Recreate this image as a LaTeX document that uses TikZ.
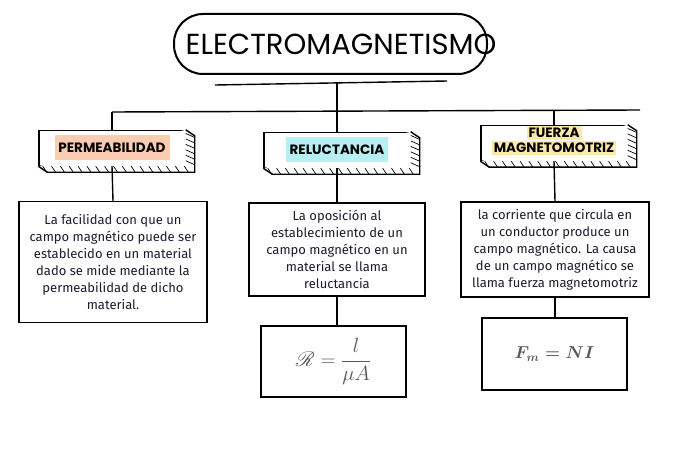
\documentclass[tikz,border=0pt]{standalone}
\usepackage{fontspec}
\setmainfont{Fira Sans}
\newfontfamily\headfont{Poppins}
\usepackage{amsmath}
\usepackage{mathrsfs}
\usetikzlibrary{positioning,shapes.geometric,calc}

\definecolor{peach}{RGB}{250,204,178}
\definecolor{aqua}{RGB}{183,240,242}
\definecolor{butter}{RGB}{252,232,168}
\definecolor{ink}{RGB}{28,28,48}

\begin{document}
\begin{tikzpicture}[
  x=1pt, y=-1pt,
  line width=1.4pt,
  every node/.style={text=ink},
  titletext/.style={inner sep=0pt, text=black, font=\headfont\fontsize{29}{30}\selectfont},
  slab/.style={draw, fill=white, minimum width=146pt, minimum height=35pt},
  tag/.style={font=\headfont\bfseries\fontsize{13.5}{14}\selectfont, align=center, inner sep=3pt, text=black},
  textbox/.style={draw, fill=white, align=center, font=\fontsize{13}{17}\selectfont, inner sep=2pt},
  formbox/.style={draw, fill=white, text=black!65, minimum width=145pt},
  hatch/.style={line width=0.7pt},
]
\useasboundingbox (0,0) rectangle (687,449);

\node[titletext] (title) at (341,44) {ELECTROMAGNETISMO};
\draw[line width=2pt, rounded corners=29pt] ($(title)+(-167,-30)$) rectangle ($(title)+(146,30)$);

\coordinate (ulL) at (215,85);
\coordinate (ulR) at (447,81);
\coordinate (hub) at (337,83);
\coordinate (barL) at (112,112);
\coordinate (barR) at (640,110);

\draw (ulL) -- (ulR);
\draw (barL) -- (barR);

% slabs
\node[slab] (perm) at (112,148) {};
\node[slab] (rel) at (337,150) {};
\node[slab] (fmm) at (554,143) {};

\foreach \n in {perm,rel,fmm} {
  \draw[fill=white] (\n.north east) -- ++(9,6) -- ($(\n.south east)+(9,6)$)
    -- ($(\n.south west)+(9,6)$) -- (\n.south west);
  \foreach \t in {0.03,0.09,...,0.99}
    \draw[hatch] ($(\n.south west)!\t!(\n.south east)$) -- ++(4,6);
  \foreach \t in {0.1,0.25,...,0.95}
    \draw[hatch] ($(\n.north east)!\t!(\n.south east)$) -- ++(9,4);
}

\node[tag, fill=peach, minimum width=115pt, minimum height=25pt] (permtag) at (perm) {PERMEABILIDAD};
\node[tag, fill=aqua, minimum width=102pt, minimum height=25pt] (reltag) at (rel) {RELUCTANCIA};
\node[tag, fill=butter, inner sep=2pt] (fmmtagB) at ($(fmm)+(0,5)$) {MAGNETOMOTRIZ};
\node[tag, fill=butter, anchor=south, inner sep=2pt] (fmmtagA) at (fmmtagB.north) {FUERZA};

% descriptions
\node[textbox, minimum width=188pt, minimum height=121pt] (permtxt) at (113,262)
  {La facilidad con que un\\campo magnético puede ser\\establecido en un material\\dado se mide mediante la\\permeabilidad de dicho\\material.};
\node[textbox, minimum width=176pt, minimum height=93pt] (reltxt) at (337,249.5)
  {La oposición al\\establecimiento de un\\campo magnético en un\\material se llama\\reluctancia};
\node[textbox, minimum width=188pt, minimum height=95pt] (fmmtxt) at (555,249.5)
  {la corriente que circula en\\un conductor produce un\\campo magnético. La causa\\de un campo magnético se\\llama fuerza magnetomotriz};

% formulas
\node[formbox, minimum height=71pt, font=\huge] (relform) at (333.5,361.5) {$\mathscr{R} = \dfrac{l}{\mu A}$};
\node[formbox, minimum height=72pt, font=\LARGE\boldmath] (fmmform) at (554.5,354) {$F_m = NI$};

% connectors
\draw (hub) -- (rel.north);
\draw (barL) -- (perm.north);
\draw (fmm.north |- barR) -- (fmm.north);
\draw (perm.south) -- (permtxt.north);
\draw (rel.south) -- (reltxt.north);
\draw (fmm.south) -- (fmmtxt.north);
\draw (reltxt.south) -- (reltxt.south |- relform.north);
\draw (fmmtxt.south) -- (fmmtxt.south |- fmmform.north);

\end{tikzpicture}
\end{document}
